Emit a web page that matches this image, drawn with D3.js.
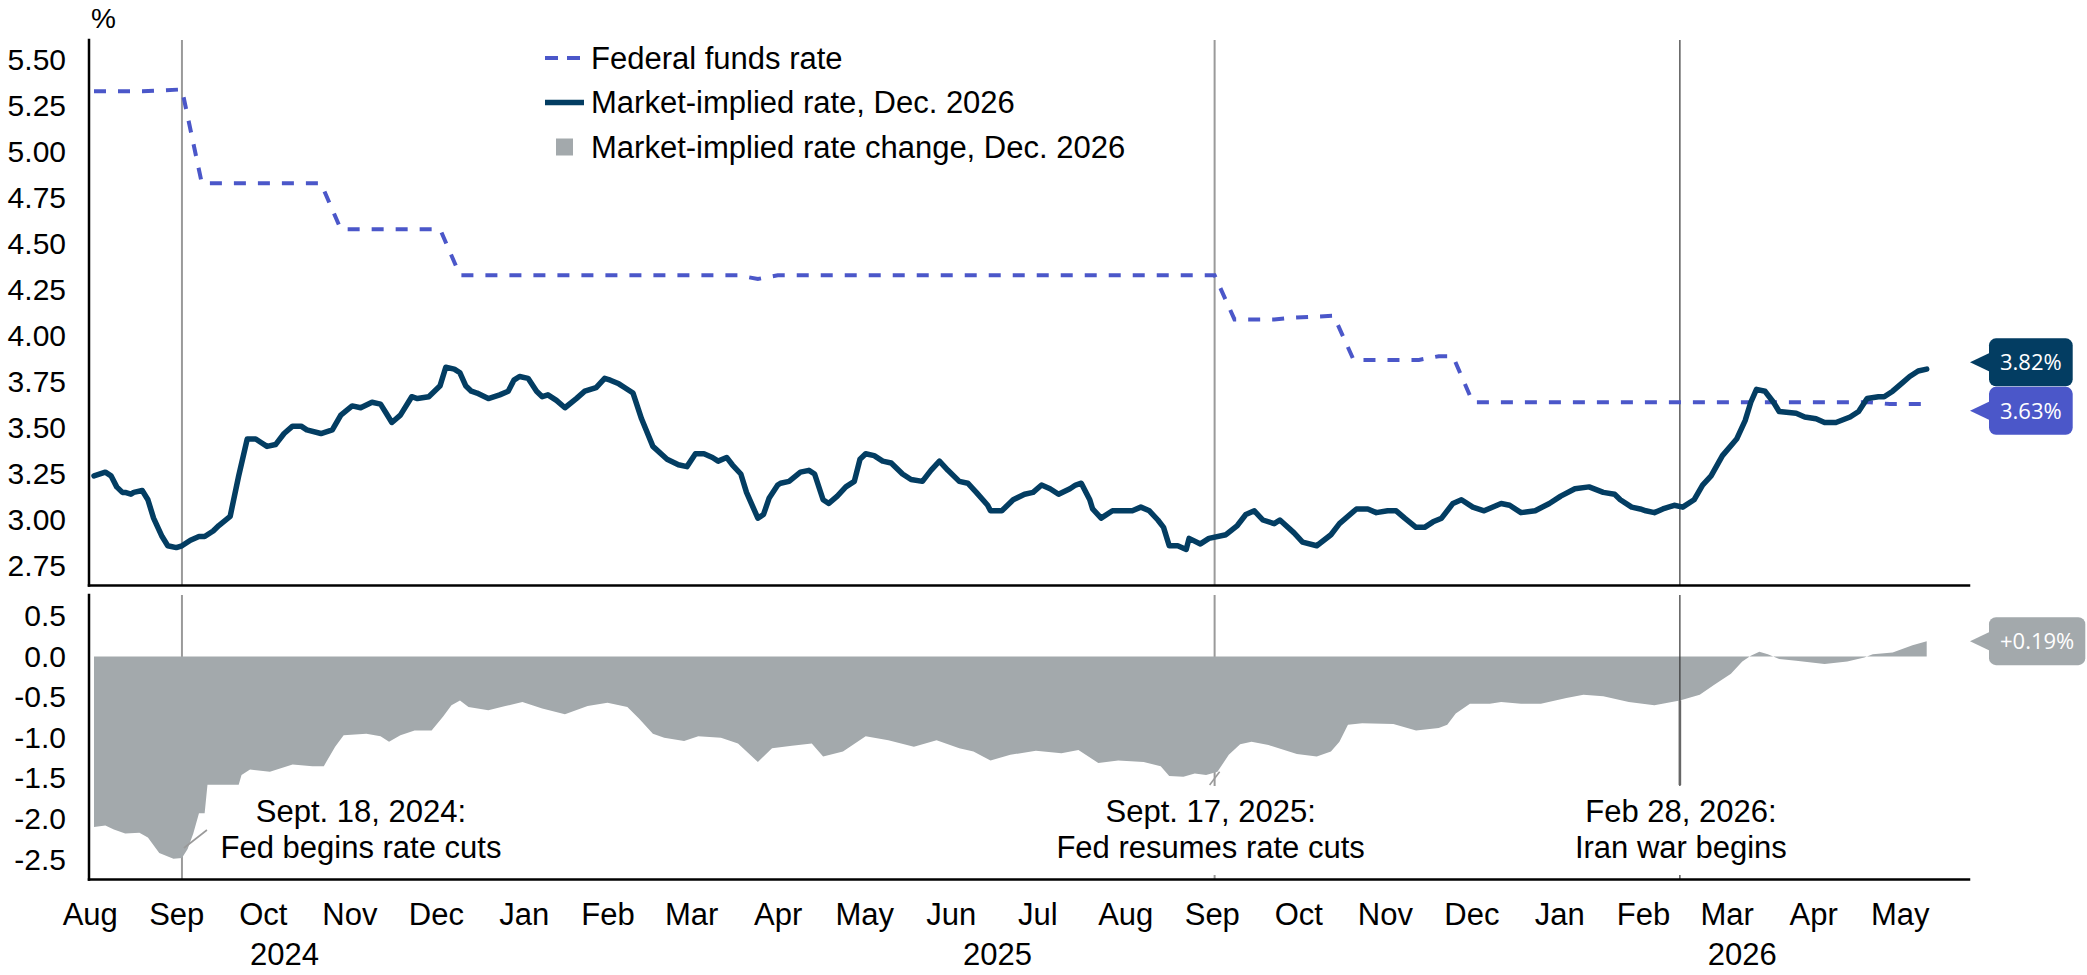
<!DOCTYPE html>
<html>
<head>
<meta charset="utf-8">
<script src="https://cdn.jsdelivr.net/npm/d3@7"></script>
<style>
  html, body { margin: 0; padding: 0; background: #fff; }
  svg { display: block; }
</style>
</head>
<body>
<svg id="chart" width="2087" height="975"></svg>
<script>
// ---- data ----
const fedFundsRate = [
  ["2024-08-18", 5.33], ["2024-09-04", 5.33], ["2024-09-18", 5.34], ["2024-09-25", 4.83],
  ["2024-11-06", 4.83], ["2024-11-13", 4.58], ["2024-12-18", 4.58], ["2024-12-25", 4.33],
  ["2025-04-02", 4.33], ["2025-04-09", 4.31], ["2025-04-16", 4.33], ["2025-09-17", 4.33],
  ["2025-09-24", 4.09], ["2025-10-08", 4.09], ["2025-10-15", 4.10], ["2025-10-29", 4.11],
  ["2025-11-05", 3.87], ["2025-11-28", 3.87], ["2025-12-05", 3.89], ["2025-12-10", 3.89],
  ["2025-12-17", 3.64], ["2026-05-06", 3.64], ["2026-05-13", 3.63], ["2026-05-26", 3.63]
];

const impliedRate = [
  ["2024-08-18", 3.24], ["2024-08-22", 3.26], ["2024-08-24", 3.24], ["2024-08-26", 3.18],
  ["2024-08-28", 3.15], ["2024-08-29", 3.15], ["2024-08-31", 3.14], ["2024-09-01", 3.15],
  ["2024-09-04", 3.16], ["2024-09-06", 3.11], ["2024-09-08", 3.01], ["2024-09-11", 2.91],
  ["2024-09-13", 2.86], ["2024-09-16", 2.85], ["2024-09-18", 2.86], ["2024-09-21", 2.89],
  ["2024-09-24", 2.91], ["2024-09-26", 2.91], ["2024-09-29", 2.94], ["2024-10-01", 2.97],
  ["2024-10-05", 3.02], ["2024-10-08", 3.24], ["2024-10-11", 3.44], ["2024-10-14", 3.44],
  ["2024-10-16", 3.42], ["2024-10-18", 3.40], ["2024-10-21", 3.41], ["2024-10-22", 3.43],
  ["2024-10-24", 3.47], ["2024-10-27", 3.51], ["2024-10-30", 3.51], ["2024-11-01", 3.49],
  ["2024-11-06", 3.47], ["2024-11-10", 3.49], ["2024-11-13", 3.57], ["2024-11-17", 3.62],
  ["2024-11-20", 3.61], ["2024-11-24", 3.64], ["2024-11-27", 3.63], ["2024-11-29", 3.58],
  ["2024-12-01", 3.53], ["2024-12-04", 3.57], ["2024-12-08", 3.67], ["2024-12-10", 3.66],
  ["2024-12-14", 3.67], ["2024-12-16", 3.70], ["2024-12-18", 3.73], ["2024-12-20", 3.83],
  ["2024-12-23", 3.82], ["2024-12-25", 3.80], ["2024-12-27", 3.73], ["2024-12-29", 3.70],
  ["2024-12-31", 3.69], ["2025-01-04", 3.66], ["2025-01-08", 3.68], ["2025-01-11", 3.70],
  ["2025-01-13", 3.76], ["2025-01-15", 3.78], ["2025-01-18", 3.77], ["2025-01-21", 3.70],
  ["2025-01-23", 3.67], ["2025-01-25", 3.68], ["2025-01-28", 3.65], ["2025-01-31", 3.61],
  ["2025-02-04", 3.66], ["2025-02-07", 3.70], ["2025-02-09", 3.71], ["2025-02-11", 3.72],
  ["2025-02-14", 3.77], ["2025-02-16", 3.76], ["2025-02-19", 3.74], ["2025-02-21", 3.72],
  ["2025-02-24", 3.69], ["2025-02-27", 3.55], ["2025-03-03", 3.40], ["2025-03-08", 3.33],
  ["2025-03-12", 3.30], ["2025-03-15", 3.29], ["2025-03-18", 3.36], ["2025-03-21", 3.36],
  ["2025-03-24", 3.34], ["2025-03-26", 3.32], ["2025-03-29", 3.34], ["2025-03-31", 3.30],
  ["2025-04-03", 3.25], ["2025-04-05", 3.15], ["2025-04-09", 3.01], ["2025-04-11", 3.03],
  ["2025-04-13", 3.12], ["2025-04-16", 3.19], ["2025-04-17", 3.20], ["2025-04-20", 3.21],
  ["2025-04-24", 3.26], ["2025-04-27", 3.27], ["2025-04-29", 3.25], ["2025-05-02", 3.11],
  ["2025-05-04", 3.09], ["2025-05-07", 3.13], ["2025-05-10", 3.18], ["2025-05-13", 3.21],
  ["2025-05-15", 3.33], ["2025-05-17", 3.36], ["2025-05-20", 3.35], ["2025-05-23", 3.32],
  ["2025-05-26", 3.31], ["2025-05-30", 3.25], ["2025-06-02", 3.22], ["2025-06-06", 3.21],
  ["2025-06-09", 3.27], ["2025-06-12", 3.32], ["2025-06-15", 3.27], ["2025-06-19", 3.21],
  ["2025-06-22", 3.20], ["2025-06-25", 3.15], ["2025-06-29", 3.08], ["2025-06-30", 3.05],
  ["2025-07-04", 3.05], ["2025-07-08", 3.11], ["2025-07-12", 3.14], ["2025-07-15", 3.15],
  ["2025-07-18", 3.19], ["2025-07-21", 3.17], ["2025-07-24", 3.14], ["2025-07-28", 3.17],
  ["2025-07-30", 3.19], ["2025-08-01", 3.20], ["2025-08-04", 3.11], ["2025-08-05", 3.06],
  ["2025-08-08", 3.01], ["2025-08-12", 3.05], ["2025-08-15", 3.05], ["2025-08-19", 3.05],
  ["2025-08-22", 3.07], ["2025-08-25", 3.05], ["2025-08-28", 3.00], ["2025-08-30", 2.96],
  ["2025-09-01", 2.86], ["2025-09-04", 2.86], ["2025-09-07", 2.84], ["2025-09-08", 2.90],
  ["2025-09-12", 2.87], ["2025-09-15", 2.90], ["2025-09-21", 2.92], ["2025-09-25", 2.97],
  ["2025-09-28", 3.03], ["2025-10-01", 3.05], ["2025-10-04", 3.00], ["2025-10-08", 2.98],
  ["2025-10-10", 3.00], ["2025-10-15", 2.93], ["2025-10-18", 2.88], ["2025-10-23", 2.86],
  ["2025-10-28", 2.92], ["2025-10-31", 2.98], ["2025-11-06", 3.06], ["2025-11-10", 3.06],
  ["2025-11-13", 3.04], ["2025-11-17", 3.05], ["2025-11-20", 3.05], ["2025-11-23", 3.01],
  ["2025-11-27", 2.96], ["2025-11-30", 2.96], ["2025-12-03", 2.99], ["2025-12-06", 3.01],
  ["2025-12-10", 3.09], ["2025-12-13", 3.11], ["2025-12-17", 3.07], ["2025-12-21", 3.05],
  ["2025-12-27", 3.09], ["2025-12-30", 3.08], ["2026-01-03", 3.04], ["2026-01-08", 3.05],
  ["2026-01-13", 3.09], ["2026-01-17", 3.13], ["2026-01-22", 3.17], ["2026-01-27", 3.18],
  ["2026-02-01", 3.15], ["2026-02-05", 3.14], ["2026-02-07", 3.11], ["2026-02-11", 3.07],
  ["2026-02-14", 3.06], ["2026-02-16", 3.05], ["2026-02-19", 3.04], ["2026-02-22", 3.06],
  ["2026-02-26", 3.08], ["2026-03-01", 3.07], ["2026-03-05", 3.11], ["2026-03-08", 3.19],
  ["2026-03-11", 3.24], ["2026-03-15", 3.35], ["2026-03-20", 3.44], ["2026-03-23", 3.54],
  ["2026-03-25", 3.64], ["2026-03-27", 3.71], ["2026-03-30", 3.70], ["2026-04-02", 3.64],
  ["2026-04-04", 3.59], ["2026-04-10", 3.58], ["2026-04-13", 3.56], ["2026-04-17", 3.55],
  ["2026-04-20", 3.53], ["2026-04-24", 3.53], ["2026-04-29", 3.56], ["2026-05-02", 3.59],
  ["2026-05-05", 3.66], ["2026-05-09", 3.67], ["2026-05-11", 3.67], ["2026-05-14", 3.70],
  ["2026-05-17", 3.74], ["2026-05-20", 3.78], ["2026-05-23", 3.81], ["2026-05-26", 3.82]
];

const impliedChange = [
  ["2024-08-18", -2.10], ["2024-08-22", -2.08], ["2024-08-25", -2.13], ["2024-08-29", -2.18],
  ["2024-09-03", -2.17], ["2024-09-06", -2.23], ["2024-09-10", -2.42], ["2024-09-15", -2.49],
  ["2024-09-18", -2.48], ["2024-09-20", -2.37], ["2024-09-22", -2.18], ["2024-09-24", -1.93],
  ["2024-09-26", -1.93], ["2024-09-27", -1.58], ["2024-10-08", -1.58], ["2024-10-09", -1.46],
  ["2024-10-12", -1.39], ["2024-10-19", -1.42], ["2024-10-27", -1.33], ["2024-11-03", -1.35],
  ["2024-11-07", -1.35], ["2024-11-11", -1.11], ["2024-11-14", -0.97], ["2024-11-22", -0.95],
  ["2024-11-27", -0.98], ["2024-11-30", -1.05], ["2024-12-04", -0.97], ["2024-12-09", -0.91],
  ["2024-12-15", -0.91], ["2024-12-19", -0.74], ["2024-12-22", -0.60], ["2024-12-25", -0.54],
  ["2024-12-28", -0.62], ["2025-01-04", -0.66], ["2025-01-10", -0.61], ["2025-01-16", -0.56],
  ["2025-01-23", -0.64], ["2025-01-31", -0.71], ["2025-02-08", -0.61], ["2025-02-15", -0.57],
  ["2025-02-22", -0.62], ["2025-02-26", -0.76], ["2025-03-03", -0.95], ["2025-03-07", -1.00],
  ["2025-03-14", -1.04], ["2025-03-19", -0.98], ["2025-03-27", -1.00], ["2025-04-02", -1.07],
  ["2025-04-09", -1.30], ["2025-04-14", -1.13], ["2025-04-21", -1.10], ["2025-04-28", -1.07],
  ["2025-05-02", -1.23], ["2025-05-09", -1.17], ["2025-05-17", -0.98], ["2025-05-25", -1.03],
  ["2025-06-03", -1.11], ["2025-06-11", -1.03], ["2025-06-19", -1.13], ["2025-06-24", -1.17],
  ["2025-06-30", -1.28], ["2025-07-07", -1.21], ["2025-07-16", -1.16], ["2025-07-25", -1.19],
  ["2025-07-31", -1.15], ["2025-08-07", -1.31], ["2025-08-14", -1.28], ["2025-08-23", -1.30],
  ["2025-08-29", -1.35], ["2025-09-01", -1.47], ["2025-09-06", -1.48], ["2025-09-10", -1.44],
  ["2025-09-14", -1.46], ["2025-09-18", -1.42], ["2025-09-22", -1.21], ["2025-09-26", -1.08],
  ["2025-09-30", -1.05], ["2025-10-06", -1.09], ["2025-10-16", -1.20], ["2025-10-23", -1.23],
  ["2025-10-28", -1.17], ["2025-10-31", -1.05], ["2025-11-03", -0.84], ["2025-11-08", -0.82],
  ["2025-11-19", -0.83], ["2025-11-27", -0.91], ["2025-12-05", -0.88], ["2025-12-08", -0.84],
  ["2025-12-11", -0.70], ["2025-12-16", -0.58], ["2025-12-23", -0.58], ["2025-12-27", -0.56],
  ["2026-01-03", -0.58], ["2026-01-10", -0.58], ["2026-01-19", -0.51], ["2026-01-25", -0.47],
  ["2026-02-01", -0.49], ["2026-02-10", -0.56], ["2026-02-19", -0.60], ["2026-02-28", -0.54],
  ["2026-03-07", -0.47], ["2026-03-12", -0.35], ["2026-03-18", -0.21], ["2026-03-22", -0.06],
  ["2026-03-25", 0.01], ["2026-03-28", 0.06], ["2026-03-31", 0.03], ["2026-04-04", -0.03],
  ["2026-04-10", -0.05], ["2026-04-20", -0.09], ["2026-04-28", -0.06], ["2026-05-04", -0.01],
  ["2026-05-07", 0.03], ["2026-05-14", 0.05], ["2026-05-21", 0.14], ["2026-05-26", 0.19]
];

const monthLabels = ["2024-08", "2024-09", "2024-10", "2024-11", "2024-12",
  "2025-01", "2025-02", "2025-03", "2025-04", "2025-05", "2025-06", "2025-07",
  "2025-08", "2025-09", "2025-10", "2025-11", "2025-12",
  "2026-01", "2026-02", "2026-03", "2026-04", "2026-05"];
const yearLabels = [2024, 2025, 2026];
const rateTicks = [2.75, 3.00, 3.25, 3.50, 3.75, 4.00, 4.25, 4.50, 4.75, 5.00, 5.25, 5.50];
const changeTicks = [0.5, 0.0, -0.5, -1.0, -1.5, -2.0, -2.5];

const legendLabels = ["Federal funds rate", "Market-implied rate, Dec. 2026",
  "Market-implied rate change, Dec. 2026"];

const events = [
  { date: "2024-09-18", lines: ["Sept. 18, 2024:", "Fed begins rate cuts"] },
  { date: "2025-09-17", lines: ["Sept. 17, 2025:", "Fed resumes rate cuts"] },
  { date: "2026-02-28", lines: ["Feb 28, 2026:", "Iran war begins"] }
];

// ---- layout ----
const FONT = "'Liberation Sans', Arial, Helvetica, sans-serif";
const NAVY = "#033d62", PERI = "#4b57c9", GREY = "#a3a9ac";
const left = 89, right = 1969;
const topP = { top: 40, bottom: 585.5 };
const botP = { top: 595, bottom: 879.5 };

const parse = d3.timeParse("%Y-%m-%d");
const toPoints = arr => arr.map(([d, v]) => ({ date: parse(d), value: v }));
const ff = toPoints(fedFundsRate);
const mkt = toPoints(impliedRate);
const chg = toPoints(impliedChange);

const svg = d3.select("#chart");

const x = d3.scaleTime()
  .domain(d3.extent(mkt, d => d.date))
  .range([94, 1926.7]);

const yTop = d3.scaleLinear().domain([2.75, 5.5]).range([566, 60]);
const yBot = d3.scaleLinear().domain([-2.5, 0.5]).range([859.5, 616]);

// event lines (behind everything in the lower panel)
const eventStyle = [
  { stroke: "#9a9a9a", width: 2 },
  { stroke: "#9a9a9a", width: 2 },
  { stroke: "#333", width: 1.2 }
];
const evX = events.map(e => x(parse(e.date)));

const under = svg.append("g");
events.forEach((e, i) => {
  if (i === 2) return;
  [topP, botP].forEach(p => {
    under.append("line")
      .attr("x1", evX[i]).attr("x2", evX[i])
      .attr("y1", p.top).attr("y2", p.bottom)
      .attr("stroke", eventStyle[i].stroke)
      .attr("stroke-width", eventStyle[i].width);
  });
});

// lower panel: change area
const area = d3.area()
  .x(d => x(d.date))
  .y0(yBot(0))
  .y1(d => yBot(d.value));

svg.append("path")
  .datum(chg)
  .attr("d", area)
  .attr("fill", GREY);

// Feb 28 line drawn above the area
[topP, botP].forEach(p => {
  svg.append("line")
    .attr("x1", evX[2]).attr("x2", evX[2])
    .attr("y1", p.top).attr("y2", p.bottom)
    .attr("stroke", eventStyle[2].stroke)
    .attr("stroke-width", eventStyle[2].width);
});

// upper panel lines
const line = d3.line()
  .x(d => x(d.date))
  .y(d => yTop(d.value));

svg.append("path")
  .datum(ff)
  .attr("d", line)
  .attr("fill", "none")
  .attr("stroke", PERI)
  .attr("stroke-width", 4)
  .attr("stroke-dasharray", "12,12");

svg.append("path")
  .datum(mkt)
  .attr("d", line)
  .attr("fill", "none")
  .attr("stroke", NAVY)
  .attr("stroke-width", 5.5)
  .attr("stroke-linejoin", "round")
  .attr("stroke-linecap", "round");

// annotations
const textDx = [179, -4, 1];
events.forEach((e, i) => {
  const g = svg.append("g");
  const bg = g.append("rect").attr("fill", "#fff");
  const t = g.append("text")
    .attr("font-family", FONT)
    .attr("font-size", 31)
    .attr("text-anchor", "middle")
    .attr("fill", "#000");
  e.lines.forEach((s, k) => {
    t.append("tspan")
      .attr("x", evX[i] + textDx[i])
      .attr("y", 821.7 + k * 36.6)
      .text(s);
  });
  const bb = t.node().getBBox();
  bg.attr("x", bb.x - 4).attr("y", 786)
    .attr("width", bb.width + 8).attr("height", 875 - 786);
});

// leader lines
const chgAt = d => {
  const i = d3.bisector(p => p.date).left(chg, d);
  return chg[Math.min(i, chg.length - 1)].value;
};
svg.append("line")
  .attr("x1", evX[0] + 2).attr("y1", 848)
  .attr("x2", evX[0] + 25).attr("y2", 830)
  .attr("stroke", "#9a9a9a").attr("stroke-width", 1.6);
svg.append("line")
  .attr("x1", evX[1] - 5).attr("y1", 785)
  .attr("x2", evX[1] + 5).attr("y2", yBot(chgAt(parse(events[1].date))))
  .attr("stroke", "#9a9a9a").attr("stroke-width", 1.6);
svg.append("line")
  .attr("x1", evX[2]).attr("y1", yBot(chgAt(parse(events[2].date))))
  .attr("x2", evX[2]).attr("y2", 785)
  .attr("stroke", "#666").attr("stroke-width", 2.6);

// axes
const gyTop = svg.append("g")
  .attr("transform", `translate(${left},0)`)
  .call(d3.axisLeft(yTop).tickValues(rateTicks)
    .tickFormat(d => d.toFixed(2)).tickSize(0).tickPadding(23));
gyTop.select(".domain").remove();
gyTop.attr("font-family", FONT).attr("font-size", 30);
gyTop.selectAll("text").attr("fill", "#000");

const gyBot = svg.append("g")
  .attr("transform", `translate(${left},0)`)
  .call(d3.axisLeft(yBot).tickValues(changeTicks)
    .tickFormat(d => d.toFixed(1)).tickSize(0).tickPadding(23));
gyBot.select(".domain").remove();
gyBot.attr("font-family", FONT).attr("font-size", 30);
gyBot.selectAll("text").attr("fill", "#000");

const monthMids = monthLabels.map(m => {
  const s = d3.timeParse("%Y-%m")(m);
  const e = d3.timeMonth.offset(s, 1);
  return new Date((+s + +e) / 2);
});
const gx = svg.append("g")
  .attr("transform", `translate(0,${botP.bottom})`)
  .call(d3.axisBottom(x).tickValues(monthMids)
    .tickFormat(d3.timeFormat("%b")).tickSize(0).tickPadding(23.5));
gx.select(".domain").remove();
gx.attr("font-family", FONT).attr("font-size", 31);
gx.selectAll("text").attr("fill", "#000");

yearLabels.forEach(yr => {
  const a = Math.max(left, x(new Date(yr, 0, 1)));
  const b = Math.min(right, x(new Date(yr + 1, 0, 1)));
  svg.append("text")
    .attr("x", (a + b) / 2).attr("y", 965)
    .attr("text-anchor", "middle")
    .attr("font-family", FONT).attr("font-size", 31)
    .text(yr);
});

// axis lines
const axisLines = [
  [left, topP.top, left, topP.bottom],
  [left, topP.bottom, right, topP.bottom],
  [left, botP.top, left, botP.bottom],
  [left, botP.bottom, right, botP.bottom]
];
axisLines.forEach(([x1, y1, x2, y2]) => {
  svg.append("line")
    .attr("x1", x1).attr("y1", y1).attr("x2", x2).attr("y2", y2)
    .attr("stroke", "#000").attr("stroke-width", 2.5)
    .attr("stroke-linecap", "square");
});

svg.append("text")
  .attr("x", 91).attr("y", 28)
  .attr("font-family", FONT).attr("font-size", 28)
  .text("%");

// legend
const lg = svg.append("g").attr("font-family", FONT).attr("font-size", 31);
const legendY = [58, 102.6, 147];
lg.append("line").attr("x1", 545).attr("x2", 582).attr("y1", legendY[0]).attr("y2", legendY[0])
  .attr("stroke", PERI).attr("stroke-width", 4).attr("stroke-dasharray", "13,9");
lg.append("line").attr("x1", 545).attr("x2", 584).attr("y1", legendY[1]).attr("y2", legendY[1])
  .attr("stroke", NAVY).attr("stroke-width", 5.5);
lg.append("rect").attr("x", 556).attr("y", legendY[2] - 8.5).attr("width", 17).attr("height", 17)
  .attr("fill", GREY);
legendLabels.forEach((s, i) => {
  lg.append("text").attr("x", 591).attr("y", legendY[i]).attr("dy", "0.35em").text(s);
});

// end-value labels
function valueTag(yc, fill, label) {
  const g = svg.append("g");
  const t = g.append("text")
    .attr("font-family", "'Open Sans', 'Noto Sans', sans-serif")
    .attr("font-size", 22)
    .attr("fill", "#fff")
    .attr("text-anchor", "middle")
    .attr("dy", "0.35em")
    .text(label);
  const w = t.node().getComputedTextLength() + 22;
  t.attr("x", 1989 + w / 2).attr("y", yc);
  g.insert("rect", "text")
    .attr("x", 1989).attr("y", yc - 24).attr("width", w).attr("height", 48)
    .attr("rx", 7).attr("fill", fill);
  g.insert("path", "text")
    .attr("d", `M1970,${yc}L1991,${yc - 10}L1991,${yc + 10}Z`)
    .attr("fill", fill);
}

const lastMkt = mkt[mkt.length - 1].value;
const lastFF = ff[ff.length - 1].value;
const lastChg = chg[chg.length - 1].value;
let ya = yTop(lastMkt), yb = yTop(lastFF);
const need = 48.5 - Math.abs(yb - ya);
if (need > 0) { ya -= need / 2; yb += need / 2; }
valueTag(ya, NAVY, lastMkt.toFixed(2) + "%");
valueTag(yb, PERI, lastFF.toFixed(2) + "%");
valueTag(yBot(lastChg), GREY, (lastChg >= 0 ? "+" : "") + lastChg.toFixed(2) + "%");
</script>
</body>
</html>
